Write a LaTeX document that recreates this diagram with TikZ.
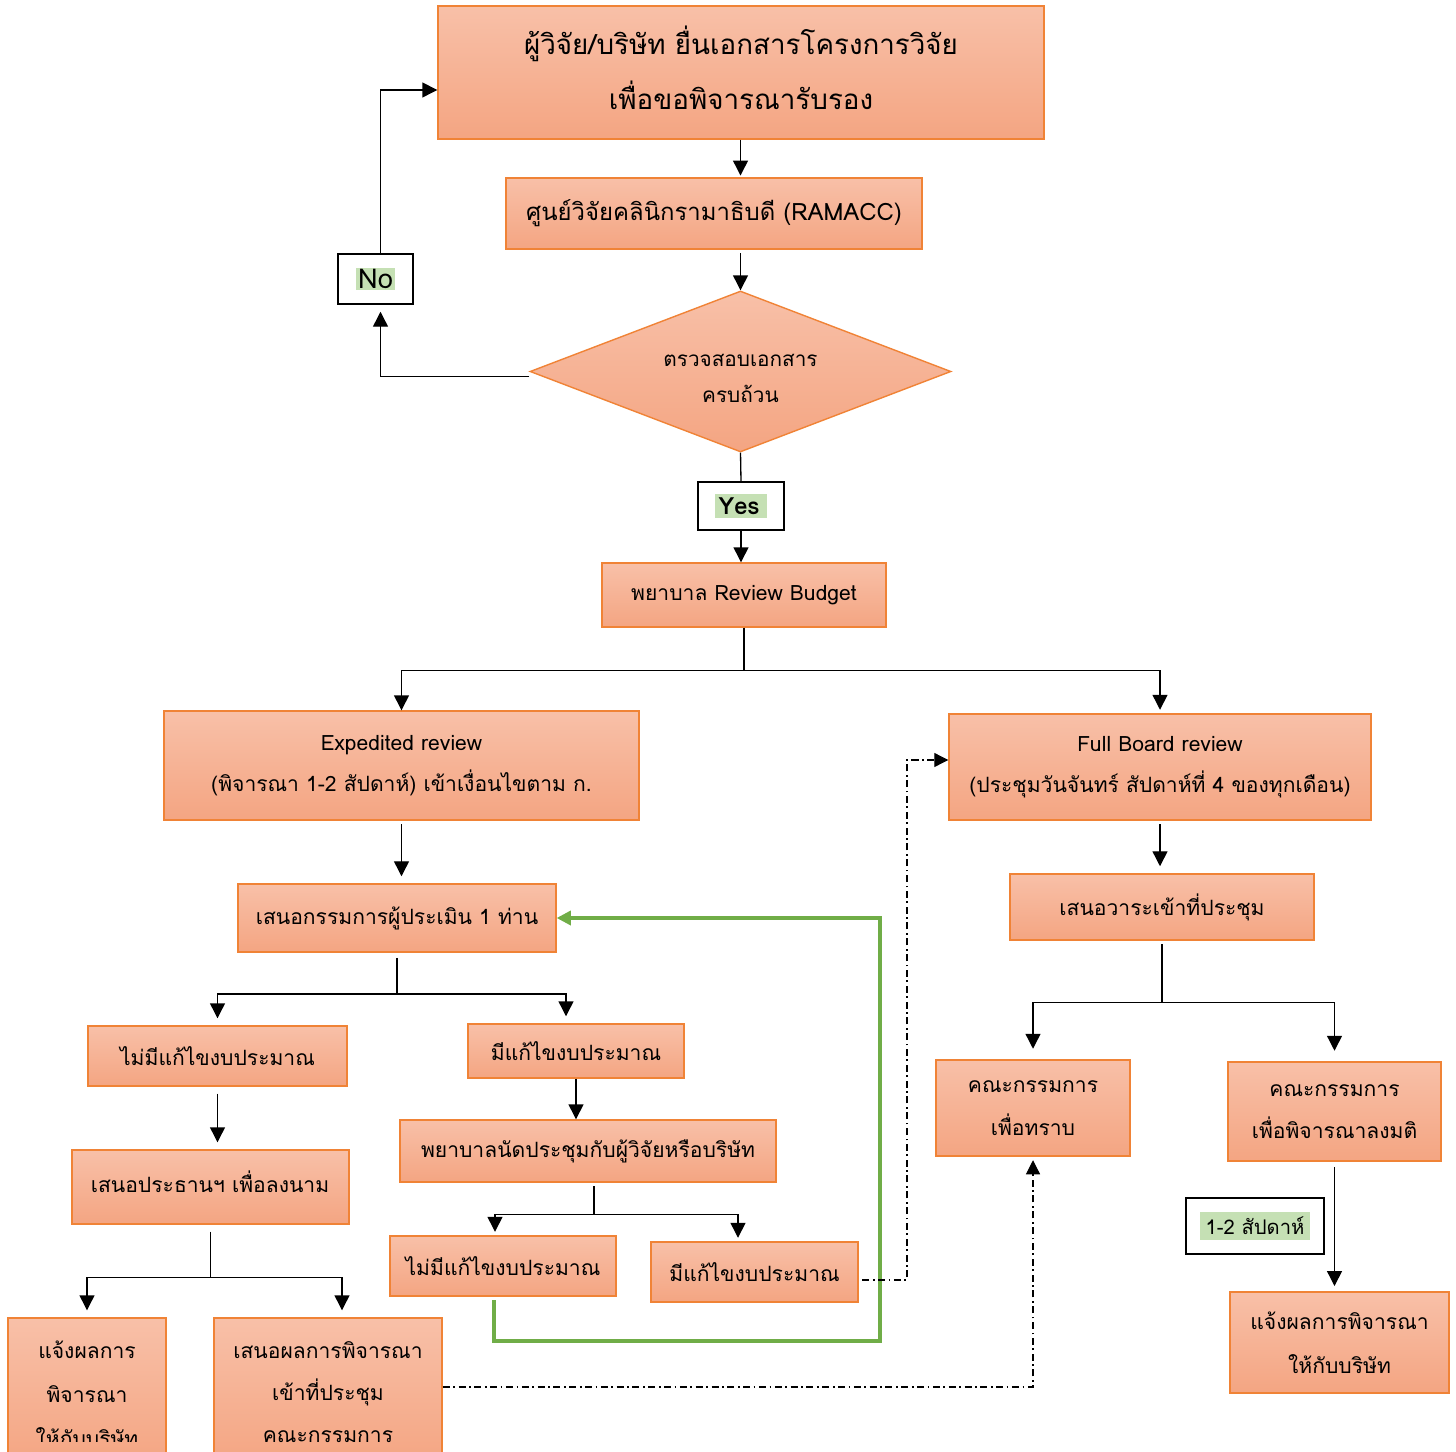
\documentclass[tikz,border=0pt]{standalone}
\usepackage{fontspec}
\setmainfont[Script=Thai]{Loma}
\usetikzlibrary{arrows.meta,shapes.geometric}
\definecolor{btop}{HTML}{F8C0A8}
\definecolor{bbot}{HTML}{F4A582}
\definecolor{bline}{HTML}{F08336}
\definecolor{gline}{HTML}{70AD47}
\definecolor{ghl}{HTML}{C5E0B4}
\tikzset{
  box/.style={draw=bline, line width=0.8pt, top color=btop, bottom color=bbot,
    inner sep=0pt, align=center, font=\fontsize{12}{24}\selectfont},
  txt/.style={inner sep=0pt, align=center},
  conn/.style={line width=0.75pt, draw=black},
  arr/.style={conn, -{Triangle[width=8.5pt,length=8.5pt]}},
  garr/.style={line width=1.8pt, draw=gline, -{Triangle[width=8pt,length=8pt]}},
  darr/.style={line width=0.6pt, draw=black, dash pattern=on 4pt off 2pt on 1pt off 2pt,
    -{Triangle[width=8pt,length=8pt]}},
  labbox/.style={draw=black, line width=0.8pt, fill=white, inner sep=0pt},
}
\newcommand\mkbox[7][]{%
  \node[box,#1,minimum width={(#5-#3)*0.02cm},minimum height={(#6-#4)*0.02cm}]
    (#2) at ({(#3+#5)/2},{(#4+#6)/2}) {#7};}
\begin{document}
\begin{tikzpicture}[x=0.02cm,y=-0.02cm]
\useasboundingbox (0,0) rectangle (1456,1452);
\clip (0,0) rectangle (1456,1452);
% boxes
\mkbox{title}{438}{6}{1044}{139}{}
\node[txt, font=\fontsize{15.8}{31}\selectfont] (titletext) at (741,68)
  {ผู้วิจัย/บริษัท ยื่นเอกสารโครงการวิจัย\\เพื่อขอพิจารณารับรอง};
\mkbox[font=\fontsize{13.6}{24}\selectfont]{ram}{506}{178}{922}{249}{ศูนย์วิจัยคลินิกรามาธิบดี (RAMACC)}
\node[diamond, aspect=2.6, draw=bline, line width=0.8pt, top color=btop, bottom color=bbot,
  minimum width={421*0.02cm}, minimum height={161*0.02cm}, inner sep=0pt] (dia) at (740.5,371.5) {};
\node[txt, font=\fontsize{11.8}{20.5}\selectfont] (diatext) at (740.5,378) {ตรวจสอบเอกสาร\\ครบถ้วน};
\node[labbox, minimum width={75*0.02cm}, minimum height={50*0.02cm}] (no) at (375.5,279)
  {\setlength\fboxsep{1pt}\colorbox{ghl}{\fontsize{15.5}{17}\selectfont No}};
\node[labbox, minimum width={86*0.02cm}, minimum height={48*0.02cm}] (yes) at (741,506)
  {\setlength\fboxsep{2pt}\colorbox{ghl}{\fontsize{13.5}{15}\selectfont\bfseries Yes\,}};
\mkbox{rb}{602}{563}{886}{627}{พยาบาล Review Budget}
\mkbox[font=\fontsize{12}{23.3}\selectfont]{exp}{164}{711}{639}{820}{Expedited review\\(พิจารณา 1-2 สัปดาห์) เข้าเงื่อนไขตาม ก.}
\mkbox[font=\fontsize{12}{23.3}\selectfont]{fb}{949}{714}{1371}{820}{Full Board review\\(ประชุมวันจันทร์ สัปดาห์ที่ 4 ของทุกเดือน)}
\mkbox{nom}{238}{884}{556}{952}{เสนอกรรมการผู้ประเมิน 1 ท่าน}
\mkbox{nf1}{88}{1026}{347}{1086}{ไม่มีแก้ไขงบประมาณ}
\mkbox{f1}{468}{1024}{684}{1078}{มีแก้ไขงบประมาณ}
\mkbox{pres}{72}{1150}{349}{1224}{}
\node[txt, font=\fontsize{12}{24}\selectfont] (prestext) at (210,1182) {เสนอประธานฯ เพื่อลงนาม};
\mkbox{nurse}{400}{1120}{776}{1182}{พยาบาลนัดประชุมกับผู้วิจัยหรือบริษัท}
\mkbox{nf2}{390}{1236}{616}{1296}{ไม่มีแก้ไขงบประมาณ}
\mkbox{f2}{651}{1242}{858}{1302}{มีแก้ไขงบประมาณ}
\mkbox{notify}{8}{1318}{166}{1466}{}
\begin{scope}
  \clip (0,1300) rectangle (1456,1441);
  \node[txt, font=\fontsize{12}{25}\selectfont] (notifytext) at (87,1394) {แจ้งผลการ\\พิจารณา\\ให้กับบริษัท};
\end{scope}
\mkbox[font=\fontsize{12}{24}\selectfont]{present}{214}{1318}{442}{1466}{}
\node[txt, font=\fontsize{12}{24}\selectfont] (presenttext) at (328,1392) {เสนอผลการพิจารณา\\เข้าที่ประชุม\\คณะกรรมการ};
\mkbox{agenda}{1010}{874}{1314}{940}{เสนอวาระเข้าที่ประชุม}
\mkbox[font=\fontsize{12}{24.5}\selectfont]{ftb}{936}{1060}{1130}{1156}{คณะกรรมการ\\เพื่อทราบ}
\mkbox[font=\fontsize{12}{24}\selectfont]{vote}{1228}{1062}{1441}{1161}{คณะกรรมการ\\เพื่อพิจารณาลงมติ}
\mkbox[font=\fontsize{12}{25}\selectfont]{notify2}{1230}{1292}{1449}{1393}{แจ้งผลการพิจารณา\\ให้กับบริษัท}
\node[labbox, minimum width={138*0.02cm}, minimum height={56*0.02cm}] (wk) at (1255,1226)
  {\setlength\fboxsep{3pt}\colorbox{ghl}{\fontsize{11.5}{14}\selectfont 1-2 สัปดาห์}};
% connectors
\draw[arr] (title.south -| dia.north) -- ([yshift=1pt]ram.north -| dia.north);
\draw[arr] ([yshift=-2pt]ram.south -| dia.north) -- (dia.north);
\draw[arr] ([yshift=-0.1cm]dia.west) -| ([xshift=0.1cm,yshift=-4pt]no.south);
\draw[arr] ([xshift=0.1cm]no.north) |- ([yshift=-0.35cm]title.west);
\draw[conn] (dia.south) -- (yes.north);
\draw[arr] (yes.south) -- (yes.south |- rb.north);
\draw[conn] (rb.south) -- ++(0,43) coordinate (s1);
\draw[arr] (s1) -| (exp.north);
\draw[arr] (s1) -| ([yshift=2pt]fb.north);
\draw[arr] ([yshift=-2pt]exp.south) -- ([yshift=4pt]exp.south |- nom.north);
\draw[conn] ([yshift=-3pt]nom.south) -- ++(0,36) coordinate (s2);
\draw[arr] (s2) -| ([yshift=4pt]nf1.north);
\draw[arr] (s2) -| ([yshift=4pt,xshift=-0.2cm]f1.north);
\draw[arr] ([yshift=-4pt]nf1.south) -- ([yshift=4pt]nf1.south |- pres.north);
\draw[arr] (f1.south) -- (f1.south |- nurse.north);
\draw[conn] ([yshift=-2pt,xshift=0.12cm]nurse.south) -- ++(0,28) coordinate (s3);
\draw[arr] (s3) -| ([yshift=2pt,xshift=-0.16cm]nf2.north);
\draw[arr] (s3) -| ([yshift=2pt,xshift=-0.33cm]f2.north);
\draw[conn] ([yshift=-4pt]pres.south) -- ++(0,46) coordinate (s4);
\draw[arr] (s4) -| ([yshift=4pt]notify.north);
\draw[arr] (s4) -| ([yshift=4pt,xshift=0.28cm]present.north);
\coordinate (gc) at (880,1341);
\draw[garr] ([yshift=-2pt,xshift=-0.18cm]nf2.south) |- (gc) |- (nom.east);
\coordinate (dc) at (907,1000);
\draw[darr] ([xshift=2pt,yshift=-0.16cm]f2.east) -| (dc) |- ([yshift=0.14cm]fb.west);
\draw[darr] ([yshift=0.1cm]present.east) -| ([yshift=-2pt]ftb.south);
\draw[arr] ([yshift=-2pt]fb.south) -- ([yshift=4pt]fb.south |- agenda.north);
\draw[conn] ([yshift=-2pt]agenda.south) -- ++(0,58) coordinate (s5);
\draw[arr] (s5) -| ([yshift=6pt]ftb.north);
\draw[arr] (s5) -| ([yshift=6pt]vote.north);
\draw[arr] ([yshift=-3pt]vote.south) -- ([yshift=3pt]vote.south |- notify2.north);
\end{tikzpicture}
\end{document}
